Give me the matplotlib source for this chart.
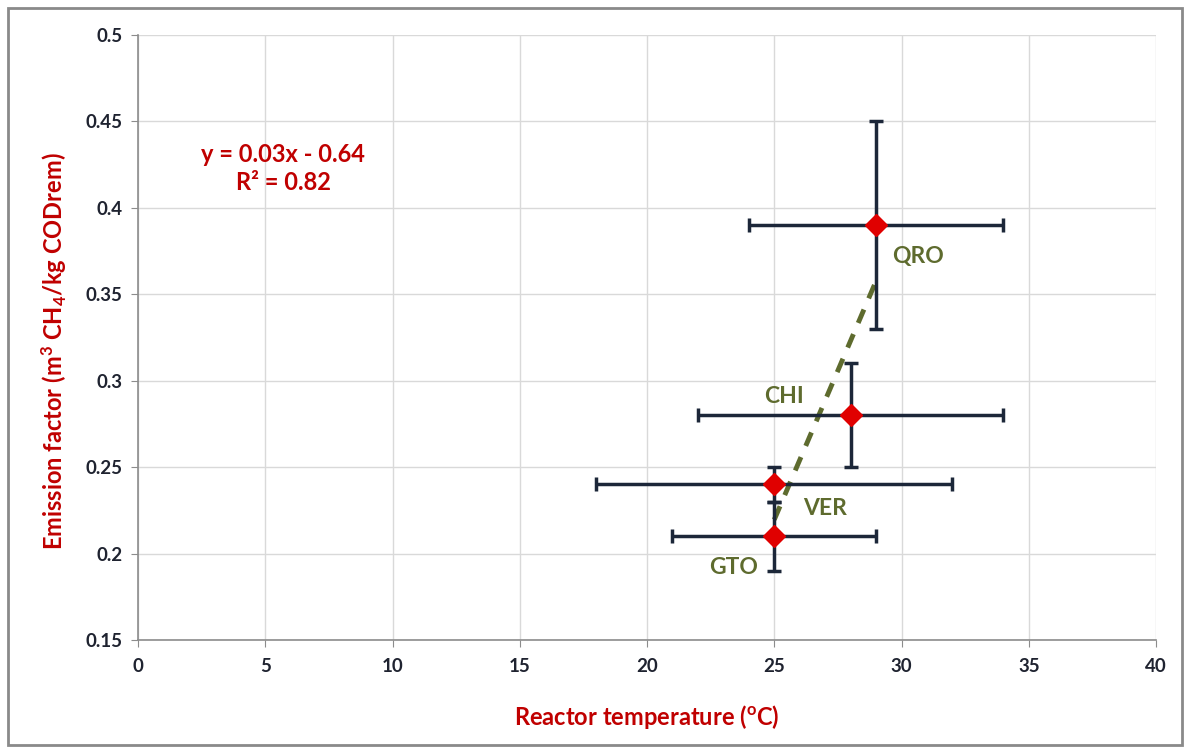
import matplotlib.pyplot as plt
import matplotlib.patches as patches
import numpy as np

plt.rcParams['font.family'] = ['Lato', 'DejaVu Sans']

# data
sites = ['QRO', 'CHI', 'VER', 'GTO']
temp = [29, 28, 25, 25]
ef = [0.39, 0.28, 0.24, 0.21]
temp_lo = [24, 22, 18, 21]
temp_hi = [34, 34, 32, 29]
ef_lo = [0.33, 0.25, 0.23, 0.19]
ef_hi = [0.45, 0.31, 0.25, 0.23]

label_pos = {'QRO': (30.65, 0.372), 'CHI': (25.4, 0.291),
             'VER': (27.0, 0.226), 'GTO': (23.4, 0.192)}

red = '#C00000'
navy = '#1C2739'
olive = '#5E6B2E'

fig = plt.figure(figsize=(11.86, 7.49), dpi=100)
ax = fig.add_axes([0.1164, 0.1455, 0.8583, 0.8078])

# frame around the whole figure
fig.patches.append(patches.Rectangle((0.007, 0.005), 0.99, 0.984, transform=fig.transFigure,
                                     fill=False, edgecolor='#8a8a8a', linewidth=2))

t = np.array(temp)
e = np.array(ef)
xerr = [t - np.array(temp_lo), np.array(temp_hi) - t]
yerr = [e - np.array(ef_lo), np.array(ef_hi) - e]

# trend line
slope, icept = np.polyfit(t, e, 1)
xs = np.array([t.min(), t.max()])
ax.plot(xs, slope * xs + icept, linestyle=(0, (3, 2.5)), color=olive, linewidth=3.5, zorder=2)

ax.errorbar(t, e, xerr=xerr, yerr=yerr, fmt='none', ecolor=navy, elinewidth=2.5,
            capsize=5, capthick=2.5, zorder=3)
ax.plot(t, e, linestyle='none', marker='D', markersize=11, color='#E00000',
        markeredgecolor='#E00000', zorder=4)

for s in sites:
    x, y = label_pos[s]
    ax.text(x, y, s, color=olive, fontsize=16.5, fontweight='bold', ha='center', va='center')

ax.text(5.7, 0.4306, 'y = 0.03x - 0.64', color=red, fontsize=17, fontweight='bold',
        ha='center', va='center')
ax.text(5.7, 0.4144, 'R² = 0.82', color=red, fontsize=17, fontweight='bold',
        ha='center', va='center')

ax.set_xlim(0, 40)
ax.set_ylim(0.15, 0.5)
ax.set_xticks(np.arange(0, 41, 5))
ax.set_yticks([0.15, 0.2, 0.25, 0.3, 0.35, 0.4, 0.45, 0.5])
ax.set_yticklabels(['0.15', '0.2', '0.25', '0.3', '0.35', '0.4', '0.45', '0.5'])
ax.grid(color='#d9d9d9', linewidth=1)
ax.set_axisbelow(True)
for sp in ['top', 'right']:
    ax.spines[sp].set_visible(False)
for sp in ['left', 'bottom']:
    ax.spines[sp].set_color('#8c8c8c')
    ax.spines[sp].set_linewidth(1.2)
ax.tick_params(colors='#8c8c8c', length=5, labelcolor='#1f2330', labelsize=13.5)
for lb in ax.get_xticklabels() + ax.get_yticklabels():
    lb.set_fontweight('bold')
ax.tick_params(axis='x', pad=8)
ax.tick_params(axis='y', pad=6)

ax.set_xlabel('Reactor temperature ($\\mathregular{^{o}}$C)', color=red, fontsize=17,
              fontweight='bold', labelpad=20)
ax.set_ylabel('Emission factor (m$\\mathregular{^{3}}$ CH$\\mathregular{_{4}}$/kg CODrem)',
              color=red, fontsize=17, fontweight='bold')
ax.yaxis.set_label_coords(-0.068, 0.478)

fig.savefig('out.png', dpi=100)
